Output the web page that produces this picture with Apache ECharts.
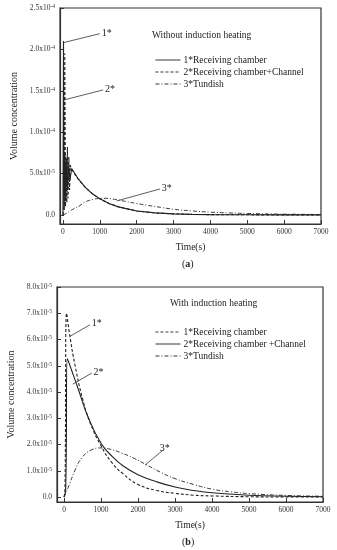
<!DOCTYPE html>
<html><head><meta charset="utf-8">
<script src="https://cdn.jsdelivr.net/npm/echarts@6/dist/echarts.min.js"></script>
<style>html,body{margin:0;padding:0;background:#fff;}#a,#b{width:337px;height:275px;}</style>
</head><body><div id="a"></div><div id="b"></div>
<script>
// ---- tick labels ----
const xTicks = [0, 1000, 2000, 3000, 4000, 5000, 6000, 7000];
// y values are in units of 1e-5
const yTicksA = [0, 5, 10, 15, 20, 25];
const yTicksB = [0, 1, 2, 3, 4, 5, 6, 7, 8];
const namesA = ['1*Receiving chamber', '2*Receiving chamber+Channel', '3*Tundish'];
const namesB = ['1*Receiving chamber', '2*Receiving chamber +Channel', '3*Tundish'];
const titleA = 'Without induction heating';
const titleB = 'With induction heating';

// ---- chart (a) data: time (s), volume concentration (x1e-5) ----
const a1T = [0, 15, 35, 55, 75, 95, 125, 155, 190, 235, 400, 600, 800, 1000, 1250, 1500, 2000, 2500, 3000, 3500, 4000, 5000, 6000, 7000];
const a1V = [0, 21.0, 0.6, 7.5, 2.0, 6.5, 3.0, 6.0, 4.2, 5.6, 4.45, 3.36, 2.55, 1.94, 1.37, 0.97, 0.48, 0.24, 0.12, 0.06, 0.03, 0.01, 0, 0];
const a2T = [0, 30, 50, 70, 90, 105, 120, 140, 160, 180, 200, 235, 400, 600, 800, 1000, 1250, 1500, 2000, 2500, 3000, 3500, 4000, 5000, 6000, 7000];
const a2V = [0, 1.0, 19.5, 1.0, 7.0, 1.5, 8.2, 2.0, 7.0, 3.0, 6.0, 5.5, 4.4, 3.35, 2.55, 1.95, 1.38, 0.98, 0.48, 0.24, 0.12, 0.06, 0.03, 0.01, 0, 0];
const a3T = [0, 100, 200, 300, 450, 600, 800, 1000, 1200, 1400, 1700, 2000, 2300, 2700, 3000, 3500, 4000, 4500, 5000, 6000, 7000];
const a3V = [0, 0.2, 0.5, 0.75, 1.1, 1.55, 1.85, 1.98, 2.0, 1.88, 1.63, 1.38, 1.15, 0.88, 0.68, 0.48, 0.33, 0.24, 0.17, 0.09, 0.05];

// ---- chart (b) data ----
const b1T = [0, 25, 70, 150, 300, 500, 700, 1000, 1300, 1600, 2000, 2500, 3000, 3500, 4000, 5000, 6000, 7000];
const b1V = [0, 0.2, 7.0, 6.2, 5.0, 3.75, 2.85, 1.95, 1.3, 0.88, 0.48, 0.25, 0.14, 0.07, 0.04, 0.01, 0, 0];
const b2T = [0, 45, 90, 200, 400, 650, 1000, 1300, 1600, 2000, 2500, 3000, 3500, 4000, 5000, 6000, 7000];
const b2V = [0, 0.3, 5.27, 4.85, 4.05, 3.05, 2.05, 1.55, 1.18, 0.85, 0.58, 0.38, 0.25, 0.16, 0.07, 0.03, 0.01];
const b3T = [0, 50, 150, 300, 480, 750, 1000, 1250, 1550, 1900, 2200, 2600, 3000, 3500, 4000, 4500, 5000, 6000, 7000];
const b3V = [0, 0.15, 0.5, 1.03, 1.49, 1.8, 1.87, 1.82, 1.68, 1.47, 1.25, 0.95, 0.7, 0.48, 0.3, 0.2, 0.13, 0.06, 0.03];

// ---- annotation leader lines (data coordinates) ----
const annA = [
  { text: '1*', from: [0, 20.8], to: [1000, 21.9] },
  { text: '2*', from: [35, 13.9], to: [1090, 15.1] },
  { text: '3*', from: [1460, 1.69], to: [2630, 3.13] }
];
const annB = [
  { text: '1*', from: [160, 6.12], to: [700, 6.56] },
  { text: '2*', from: [235, 4.30], to: [750, 4.72] },
  { text: '3*', from: [2190, 1.22], to: [2680, 1.79] }
];

const FF = 'Liberation Serif, Times New Roman, serif';
const INK = '#222';
const DASH = [3, 2];
const DASHDOT = [4, 2, 1, 2];

function pairs(T, V) { return T.map((t, i) => [t, V[i]]); }
function fmtY(v) {
  if (Math.abs(v) < 1e-9) return '0.0';
  const r = v * 1e-5;
  const e = Math.floor(Math.log10(r) + 1e-9);
  const m = r / Math.pow(10, e);
  return m.toFixed(1) + 'x10{s|' + e + '}';
}

function build(cfg) {
  const mkSeries = (name, T, V, type, width, smooth, ann) => {
    const s = {
      name, type: 'line', data: pairs(T, V), symbol: 'none', showSymbol: false,
      smooth: smooth, animation: false,
      lineStyle: { color: INK, width: width, type: type },
      itemStyle: { color: INK }
    };
    if (ann) {
      s.markLine = {
        silent: true, animation: false, symbol: ['none', 'none'],
        lineStyle: { color: '#333', width: 0.8, type: 'solid' },
        label: { show: true, position: 'end', formatter: '{b}', fontFamily: FF, fontSize: 10, color: INK, distance: 2 },
        data: ann.map(a => [{ coord: a.from, name: a.text }, { coord: a.to }])
      };
    }
    return s;
  };
  return {
    animation: false,
    backgroundColor: '#fff',
    grid: { left: cfg.gridLeft, right: cfg.gridRight, top: cfg.gridTop, height: cfg.gridHeight,
            show: true, borderColor: '#333', borderWidth: 1.2, containLabel: false, outerBoundsMode: 'none' },
    title: [{ text: cfg.title, left: cfg.titleLeft, top: cfg.titleTop, padding: 0,
              textStyle: { fontFamily: FF, fontSize: 9.5, fontWeight: 'normal', color: INK } }],
    legend: {
      orient: 'vertical', left: cfg.legendLeft, top: cfg.legendTop, itemWidth: 25, itemHeight: 10, itemGap: 2,
      padding: 0, selectedMode: false,
      itemStyle: { opacity: 0 },
      lineStyle: { width: 0.9 },
      textStyle: { fontFamily: FF, fontSize: 9.5, color: INK, padding: [0, 0, 0, -2] },
      data: cfg.names
    },
    xAxis: {
      type: 'value', min: cfg.xMin, max: 7000,
      name: 'Time(s)', nameLocation: 'middle', nameGap: cfg.xNameGap,
      nameTextStyle: { fontFamily: FF, fontSize: 9.5, color: INK },
      axisLine: { show: true, onZero: false, lineStyle: { color: '#333', width: 1.2 } },
      axisTick: { show: true, inside: true, length: 4, customValues: xTicks, lineStyle: { color: '#333' } },
      axisLabel: { customValues: xTicks, formatter: v => String(Math.round(v)), fontFamily: FF, fontSize: 7.5, color: '#333', margin: 4 },
      splitLine: { show: false }
    },
    yAxis: {
      type: 'value', min: cfg.yMin, max: cfg.yMax,
      name: 'Volume concentration', nameLocation: 'middle', nameGap: cfg.yNameGap,
      nameTextStyle: { fontFamily: FF, fontSize: 10, color: INK },
      axisLine: { show: true, onZero: false, lineStyle: { color: '#333', width: 1.2 } },
      axisTick: { show: true, inside: true, length: 4, customValues: cfg.yTicks, lineStyle: { color: '#333' } },
      axisLabel: { customValues: cfg.yTicks, formatter: fmtY, fontFamily: FF, fontSize: 7.5, color: '#333', margin: 5,
                   rich: { s: { fontFamily: FF, fontSize: 5.5, verticalAlign: 'top', color: '#333', padding: [0, 0, 3, 0] } } },
      splitLine: { show: false }
    },
    graphic: [{
      type: 'text', left: cfg.capX, top: cfg.capY,
      style: { text: '({b|' + cfg.cap + '})', fontFamily: FF, fontSize: 10, fill: INK,
               rich: { b: { fontFamily: FF, fontSize: 10, fontWeight: 'bold', fill: INK } } }
    }],
    series: cfg.series.map((s, i) => mkSeries(cfg.names[i], s.T, s.V, s.type, s.width, s.smooth, i === 2 ? cfg.ann : null))
  };
}

const chartA = echarts.init(document.getElementById('a'), null, { renderer: 'canvas' });
chartA.setOption(build({
  gridLeft: 60, gridRight: 16, gridTop: 8, gridHeight: 216,
  xMin: -80, yMin: -1.1, yMax: 25, yTicks: yTicksA,
  xNameGap: 18, yNameGap: 40,
  title: titleA, titleLeft: 152, titleTop: 30,
  legendLeft: 155, legendTop: 55, names: namesA,
  cap: 'a', capX: 182, capY: 259,
  ann: annA,
  series: [
    { T: a1T, V: a1V, type: 'solid', width: 1.1, smooth: false },
    { T: a2T, V: a2V, type: DASH, width: 1.1, smooth: false },
    { T: a3T, V: a3V, type: DASHDOT, width: 0.9, smooth: true }
  ]
}));

const chartB = echarts.init(document.getElementById('b'), null, { renderer: 'canvas' });
chartB.setOption(build({
  gridLeft: 57, gridRight: 14, gridTop: 12, gridHeight: 215,
  xMin: -190, yMin: -0.19, yMax: 8, yTicks: yTicksB,
  xNameGap: 18, yNameGap: 40,
  title: titleB, titleLeft: 170, titleTop: 23,
  legendLeft: 155, legendTop: 52, names: namesB,
  cap: 'b', capX: 182, capY: 262,
  ann: annB,
  series: [
    { T: b1T, V: b1V, type: DASH, width: 1.1, smooth: true },
    { T: b2T, V: b2V, type: 'solid', width: 1.1, smooth: true },
    { T: b3T, V: b3V, type: DASHDOT, width: 0.9, smooth: true }
  ]
}));
</script>
</body></html>
